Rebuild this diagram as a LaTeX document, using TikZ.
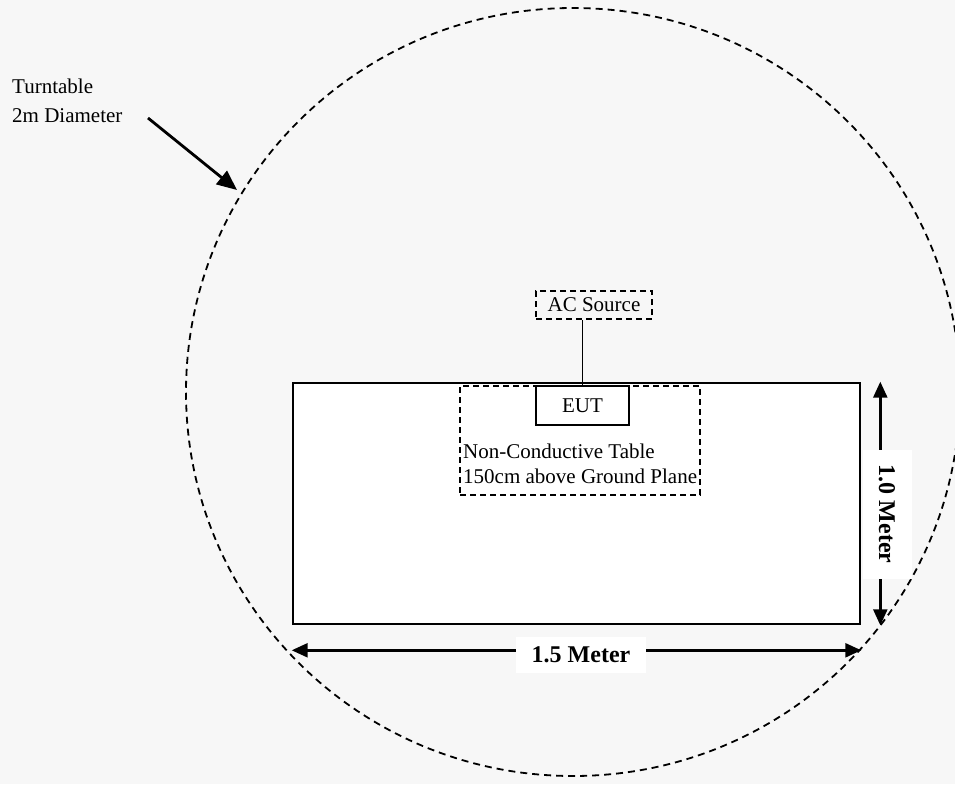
\documentclass[tikz,border=0pt]{standalone}
\usepackage{fontspec}
\setmainfont{Liberation Serif}
\usetikzlibrary{arrows.meta}
\definecolor{paper}{HTML}{F7F7F7}

\tikzset{
  dashbox/.style={draw, dash pattern=on 6pt off 4pt, line width=1.5pt, inner sep=0pt},
  dimarrow/.style={{Triangle[length=16pt,width=14pt]}-{Triangle[length=16pt,width=14pt]}, line width=2.4pt},
  dimlabel/.style={fill=white, inner sep=0pt, font=\fontsize{24}{28}\selectfont\bfseries},
  pointer/.style={-{Triangle[length=20pt,width=17pt]}, line width=2.8pt},
}

\begin{document}
\begin{tikzpicture}[x=1pt,y=-1pt,font=\fontsize{21}{25}\selectfont]
  \fill[paper] (0,0) rectangle (955,784);
  \useasboundingbox (0,0) rectangle (955,784);

  % turntable
  \draw[dash pattern=on 7pt off 5pt, line width=1.8pt]
    (573,392) ellipse [x radius=387pt, y radius=384pt];
  \node (turntable) [anchor=base west, align=left, inner sep=0pt,
    font=\fontsize{21}{29}\selectfont] at (12,122) {Turntable\\2m Diameter};
  \coordinate (tail) at (148,118);
  \coordinate (rim) at (237,190);
  \draw[pointer] (tail) -- (rim);

  % table and what stands on it
  \node (table) [draw, line width=2.6pt, fill=white,
    minimum width=567pt, minimum height=241pt] at (576.5,503.5) {};
  \node (top) [dashbox, minimum width=240pt, minimum height=109pt] at (580,440.5) {};
  \node (eut) [draw, line width=1.2pt, inner sep=0pt,
    minimum width=93pt, minimum height=39pt] at (582.5,405.5) {EUT};
  \node (ac) [dashbox, fill=paper, minimum width=116pt, minimum height=28pt]
    at (594,305) {AC Source};
  \draw[line width=1.2pt] (eut.north) -- (eut.north |- ac.south);
  \node (tabletext) [anchor=base west, align=left, inner sep=0pt]
    at (463,483) {Non-Conductive Table\\150cm above Ground Plane};

  % dimensions
  \draw[dimarrow] ([yshift=-25pt]table.south west) -- ([yshift=-25pt]table.south east);
  \node (wlabel) [dimlabel, minimum width=130pt, minimum height=36pt]
    at (581,655) {1.5 Meter};
  \draw[dimarrow] ([xshift=19pt]table.north east) -- ([xshift=19pt]table.south east);
  \node (hlabel) [dimlabel, rotate=-90, minimum width=129pt, minimum height=49pt]
    at (887,514) {1.0 Meter};
\end{tikzpicture}
\end{document}
